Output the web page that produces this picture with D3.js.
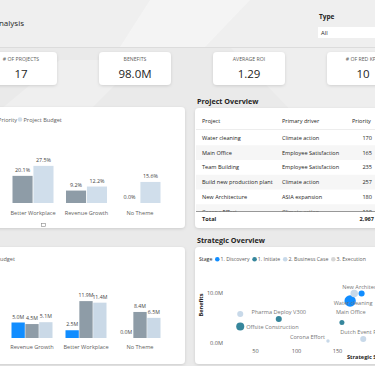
<!DOCTYPE html>
<html><head><meta charset="utf-8">
<script src="https://cdn.jsdelivr.net/npm/d3@7"></script>
<style>
body{margin:0;background:#ebebeb;overflow:hidden}
svg{display:block;font-family:"Open Sans","Noto Sans",sans-serif}
</style>
</head><body>
<svg id="c" width="375" height="366"></svg>
<script>
// ---------- DATA ----------
const pageTitle = "Analysis";
const slicerLabel = "Type";
const slicerValue = "All";

const kpiTitles = ["# OF PROJECTS", "BENEFITS", "AVERAGE ROI", "# OF RED KPIS"];
const kpiValues = ["17", "98.0M", "1.29", "10"];

const themeCats = ["Better Workplace", "Revenue Growth", "No Theme"];
const themeSeries = ["Project Priority", "Project Budget"];
const themePriorityPct = [20.1, 9.2, 0.0];
const themeBudgetPct = [27.5, 12.2, 15.6];

const benefitCats = ["Revenue Growth", "Better Workplace", "No Theme"];
const benefitSeries = ["Benefits", "Project Priority", "Project Budget"];
const benefitValues = [5.0, 2.5, 0.0];
const benefitPriority = [4.5, 11.9, 8.4];
const benefitBudget = [5.1, 11.4, 6.5];

const tableColumns = ["Project", "Primary driver", "Priority"];
const tableProjects = ["Water cleaning", "Main Office", "Team Building", "Build new production plant", "New Architecture", "Corona Effort"];
const tableDrivers = ["Climate action", "Employee Satisfaction", "Employee Satisfaction", "Climate action", "ASIA expansion", "Climate action"];
const tablePriority = [170, 165, 235, 257, 180, 120];
const tableTotal = 2967;

const stages = ["1. Discovery", "1. Initiate", "2. Business Case", "3. Execution"];
const scatterNames = ["Team Building", "Offsite Construction", "Pharma Deploy V300", "Corona Effort", "Main Office", "Water cleaning", "New Architecture", "Build new production plant", "Dutch Event Preparation"];
const scatterStage = ["2. Business Case", "1. Initiate", "1. Initiate", "2. Business Case", "1. Initiate", "1. Discovery", "2. Business Case", "1. Discovery", "2. Business Case"];
const scatterScore = [32, 32, 79, 139, 156, 166, 171, 180, 182];
const scatterBenefits = [5.8, 3.3, 4.8, 0.4, 4.1, 8.4, 9.9, 9.9, 0.8];
const scatterSize = [9, 16, 9, 2.9, 6.2, 32, 13.7, 9, 9];

// ---------- DRAW ----------
const svg = d3.select("#c");
const FONT = 5.6;
const defs = svg.append("defs");
const f = defs.append("filter").attr("id", "sh").attr("x", "-20%").attr("y", "-20%").attr("width", "140%").attr("height", "140%");
f.append("feDropShadow").attr("dx", 0).attr("dy", 1).attr("stdDeviation", 1.4).attr("flood-color", "#000").attr("flood-opacity", 0.13);
defs.append("clipPath").attr("id", "rowclip").append("rect").attr("x", 190).attr("y", 129).attr("width", 190).attr("height", 82.5);

// background
svg.append("rect").attr("width", 375).attr("height", 366).attr("fill", "#eaeaea");
svg.append("rect").attr("width", 375).attr("height", 47).attr("fill", "#efefef");
svg.append("path").attr("d", "M150,0 L250,0 L205,47 L120,47 Z").attr("fill", "#fff").attr("opacity", 0.35);
svg.append("path").attr("d", "M0,110 L60,60 L140,60 L40,160 Z").attr("fill", "#fff").attr("opacity", 0.25);
svg.append("path").attr("d", "M230,47 L375,47 L375,120 L300,120 Z").attr("fill", "#fff").attr("opacity", 0.2);
svg.append("line").attr("x1", 0).attr("x2", 375).attr("y1", 47.5).attr("y2", 47.5).attr("stroke", "#dcdcdc");

// header
svg.append("text").attr("x", 24).attr("y", 26).attr("text-anchor", "end").attr("font-size", 8).attr("fill", "#252423").text(pageTitle);
svg.append("text").attr("x", 319).attr("y", 19).attr("font-size", 6.5).attr("font-weight", 700).attr("fill", "#252423").text(slicerLabel);
svg.append("rect").attr("x", 318).attr("y", 27).attr("width", 70).attr("height", 11).attr("fill", "#fff");
svg.append("text").attr("x", 321).attr("y", 34.5).attr("font-size", 5.8).attr("fill", "#252423").text(slicerValue);

// KPI cards
const cardCenters = [21, 135, 249, 363];
const cardX = d3.scalePoint().domain(kpiTitles).range([cardCenters[0], cardCenters[3]]);
kpiTitles.forEach((t, i) => {
  const cx = cardX(t);
  svg.append("rect").attr("x", cx - 36).attr("y", 52).attr("width", 72).attr("height", 33).attr("rx", 4)
    .attr("fill", "#fff").attr("filter", "url(#sh)");
  svg.append("text").attr("x", cx).attr("y", 61).attr("text-anchor", "middle").attr("font-size", 5.2).attr("fill", "#605e5c").text(t);
  svg.append("text").attr("x", cx).attr("y", 78).attr("text-anchor", "middle").attr("font-size", 11.5).attr("fill", "#252423").text(kpiValues[i]);
});

// panels
function panel(x, y, w, h) {
  svg.append("rect").attr("x", x).attr("y", y).attr("width", w).attr("height", h).attr("rx", 4).attr("fill", "#fff").attr("filter", "url(#sh)");
}
panel(-10, 107, 195, 121);
panel(-10, 247, 195, 117);
panel(195, 108, 190, 120);
panel(195, 247, 190, 117);

// ---- top-left clustered bar (percent) ----
{
  const g = svg.append("g");
  const colors = ["#8e9ca7", "#d0deeb"];
  g.append("text").attr("x", 17).attr("y", 121.5).attr("text-anchor", "end").attr("font-size", FONT).attr("fill", "#605e5c").text(themeSeries[0]);
  g.append("circle").attr("cx", -32).attr("cy", 119.5).attr("r", 2.3).attr("fill", colors[0]);
  g.append("circle").attr("cx", 20).attr("cy", 119.5).attr("r", 2.3).attr("fill", colors[1]);
  g.append("text").attr("x", 23.5).attr("y", 121.5).attr("font-size", FONT).attr("fill", "#605e5c").text(themeSeries[1]);

  const x = d3.scaleBand().domain(themeCats).range([6.25, 166.75]);
  const xi = d3.scaleBand().domain(themeSeries).range([-20.5, 20.5]).paddingInner(0.04);
  const y = d3.scaleLinear().domain([0, 50]).range([203, 135.5]);
  themeCats.forEach((c, i) => {
    const vals = [themePriorityPct[i], themeBudgetPct[i]];
    const cx = x(c) + x.bandwidth() / 2;
    vals.forEach((v, j) => {
      const bx = cx + xi(themeSeries[j]);
      if (v > 0) g.append("rect").attr("x", bx).attr("y", y(v)).attr("width", xi.bandwidth()).attr("height", y(0) - y(v)).attr("fill", colors[j]);
      g.append("text").attr("x", bx + xi.bandwidth() / 2).attr("y", y(v) - 4).attr("text-anchor", "middle")
        .attr("font-size", FONT - 0.2).attr("fill", "#444").text(v.toFixed(1) + "%");
    });
  });
  const ax = g.append("g").attr("transform", "translate(0,203)").call(d3.axisBottom(x).tickSize(0).tickPadding(8));
  ax.select(".domain").remove();
  ax.selectAll("text").attr("font-size", FONT).attr("fill", "#605e5c").attr("font-family", "Open Sans");
  g.append("rect").attr("x", 41.5).attr("y", 223.5).attr("width", 4).attr("height", 3).attr("fill", "none").attr("stroke", "#888").attr("stroke-width", 0.6);
}

// ---- bottom-left clustered bar (millions) ----
{
  const g = svg.append("g");
  const colors = ["#118dff", "#8e9ca7", "#cad9e7"];
  let xr = 15;
  for (let j = benefitSeries.length - 1; j >= 0; j--) {
    const t = g.append("text").attr("x", xr).attr("y", 261).attr("text-anchor", "end").attr("font-size", FONT).attr("fill", "#605e5c").text(benefitSeries[j]);
    const w = t.node().getComputedTextLength();
    g.append("circle").attr("cx", xr - w - 3.5).attr("cy", 259).attr("r", 2.3).attr("fill", colors[j]);
    xr = xr - w - 9;
  }
  const x = d3.scaleBand().domain(benefitCats).range([5, 167]);
  const xi = d3.scaleBand().domain(benefitSeries).range([-20.5, 20.5]).paddingInner(0.04);
  const y = d3.scaleLinear().domain([0, 20]).range([338, 276]);
  benefitCats.forEach((c, i) => {
    const vals = [benefitValues[i], benefitPriority[i], benefitBudget[i]];
    const cx = x(c) + x.bandwidth() / 2;
    vals.forEach((v, j) => {
      const bx = cx + xi(benefitSeries[j]);
      if (v > 0) g.append("rect").attr("x", bx).attr("y", y(v)).attr("width", xi.bandwidth()).attr("height", y(0) - y(v)).attr("fill", colors[j]);
      g.append("text").attr("x", bx + xi.bandwidth() / 2).attr("y", y(v) - 4).attr("text-anchor", "middle")
        .attr("font-size", FONT - 0.4).attr("fill", "#444").text(v.toFixed(1) + "M");
    });
  });
  const ax = g.append("g").attr("transform", "translate(0,338)").call(d3.axisBottom(x).tickSize(0).tickPadding(7));
  ax.select(".domain").remove();
  ax.selectAll("text").attr("font-size", FONT).attr("fill", "#605e5c").attr("font-family", "Open Sans");
}

// ---- table ----
{
  const g = svg.append("g");
  g.append("text").attr("x", 197).attr("y", 103.5).attr("font-size", 7.2).attr("font-weight", 700).attr("fill", "#252423").text("Project Overview");
  const colX = [202, 282, 352];
  tableColumns.forEach((c, i) => g.append("text").attr("x", colX[i]).attr("y", 123).attr("font-size", FONT).attr("fill", "#252423").text(c));
  g.append("line").attr("x1", 196).attr("x2", 375).attr("y1", 129.5).attr("y2", 129.5).attr("stroke", "#e0e0e0").attr("stroke-width", 0.6);
  const body = g.append("g").attr("clip-path", "url(#rowclip)");
  const ry = d3.scaleBand().domain(tableProjects).range([130.5, 219]);
  tableProjects.forEach((p, i) => {
    const yy = ry(p);
    if (i % 2 === 1) body.append("rect").attr("x", 196).attr("y", yy).attr("width", 180).attr("height", ry.bandwidth()).attr("fill", "#f6f6f6");
    const cy = yy + ry.bandwidth() / 2 + 2;
    body.append("text").attr("x", colX[0]).attr("y", cy).attr("font-size", FONT).attr("fill", "#252423").text(p);
    body.append("text").attr("x", colX[1]).attr("y", cy).attr("font-size", FONT).attr("fill", "#252423").text(tableDrivers[i]);
    body.append("text").attr("x", 372).attr("y", cy).attr("text-anchor", "end").attr("font-size", FONT).attr("fill", "#252423").text(tablePriority[i]);
  });
  g.append("line").attr("x1", 196).attr("x2", 375).attr("y1", 211.5).attr("y2", 211.5).attr("stroke", "#555").attr("stroke-width", 0.6);
  g.append("text").attr("x", colX[0]).attr("y", 220.5).attr("font-size", FONT).attr("font-weight", 700).attr("fill", "#252423").text("Total");
  g.append("text").attr("x", 374).attr("y", 220.5).attr("text-anchor", "end").attr("font-size", FONT).attr("font-weight", 700).attr("fill", "#252423").text(d3.format(",")(tableTotal));
}

// ---- scatter ----
{
  const g = svg.append("g");
  g.append("text").attr("x", 197).attr("y", 242.5).attr("font-size", 7.2).attr("font-weight", 700).attr("fill", "#252423").text("Strategic Overview");
  const color = d3.scaleOrdinal().domain(stages).range(["#118dff", "#36869c", "#c8d9e9", "#d6d6d6"]);
  const LF = 5.2;
  let lx = 199;
  const st = g.append("text").attr("x", lx).attr("y", 261).attr("font-size", LF).attr("fill", "#252423").text("Stage");
  lx += st.node().getComputedTextLength() + 5;
  stages.forEach(s => {
    g.append("circle").attr("cx", lx).attr("cy", 259.2).attr("r", 2.3).attr("fill", color(s));
    const t = g.append("text").attr("x", lx + 3.2).attr("y", 261).attr("font-size", LF).attr("fill", "#605e5c").text(s);
    lx += t.node().getComputedTextLength() + 8.2;
  });
  const x = d3.scaleLinear().domain([0, 200]).range([214, 378]);
  const y = d3.scaleLinear().domain([0, 15]).range([343, 268]);
  const r = d3.scaleSqrt().domain([0, 32]).range([0, 5.7]);
  const ax = g.append("g").attr("transform", "translate(0,343)").call(d3.axisBottom(x).tickValues([50, 100, 150]).tickSize(0).tickPadding(6));
  ax.select(".domain").remove();
  ax.selectAll("text").attr("font-size", FONT).attr("fill", "#605e5c").attr("font-family", "Open Sans");
  const ay = g.append("g").attr("transform", "translate(224,0)").call(d3.axisLeft(y).tickValues([0, 10]).tickFormat(d => d.toFixed(1) + "M").tickSize(0).tickPadding(1));
  ay.select(".domain").remove();
  ay.selectAll("text").attr("font-size", FONT).attr("fill", "#605e5c").attr("font-family", "Open Sans");
  g.append("text").attr("transform", "translate(203,305) rotate(-90)").attr("text-anchor", "middle").attr("font-size", FONT).attr("font-weight", 700).attr("fill", "#252423").text("Benefits");
  g.append("text").attr("x", 347).attr("y", 359).attr("font-size", FONT).attr("font-weight", 700).attr("fill", "#252423").text("Strategic Score");

  const pts = scatterNames.map((n, i) => ({n, s: scatterStage[i], x: scatterScore[i], y: scatterBenefits[i], z: scatterSize[i]}));
  pts.sort((a, b) => b.z - a.z);
  g.selectAll("circle.pt").data(pts).join("circle").attr("class", "pt")
    .attr("cx", d => x(d.x)).attr("cy", d => y(d.y)).attr("r", d => r(d.z)).attr("fill", d => color(d.s));
  const place = {
    "Offsite Construction": [6, 2, "start"],
    "Pharma Deploy V300": [0, -5, "middle"],
    "Corona Effort": [-3, -2.5, "end"],
    "Main Office": [-6, -8.5, "start"],
    "Water cleaning": [3, 4, "middle"],
    "New Architecture": [-12, -4.5, "start"],
    "Dutch Event Preparation": [-23, -5, "start"]
  };
  pts.forEach(d => {
    const p = place[d.n];
    if (!p) return;
    g.append("text").attr("x", x(d.x) + p[0]).attr("y", y(d.y) + p[1]).attr("text-anchor", p[2])
      .attr("font-size", FONT).attr("fill", "#777").text(d.n);
  });
}
</script>
</body></html>
